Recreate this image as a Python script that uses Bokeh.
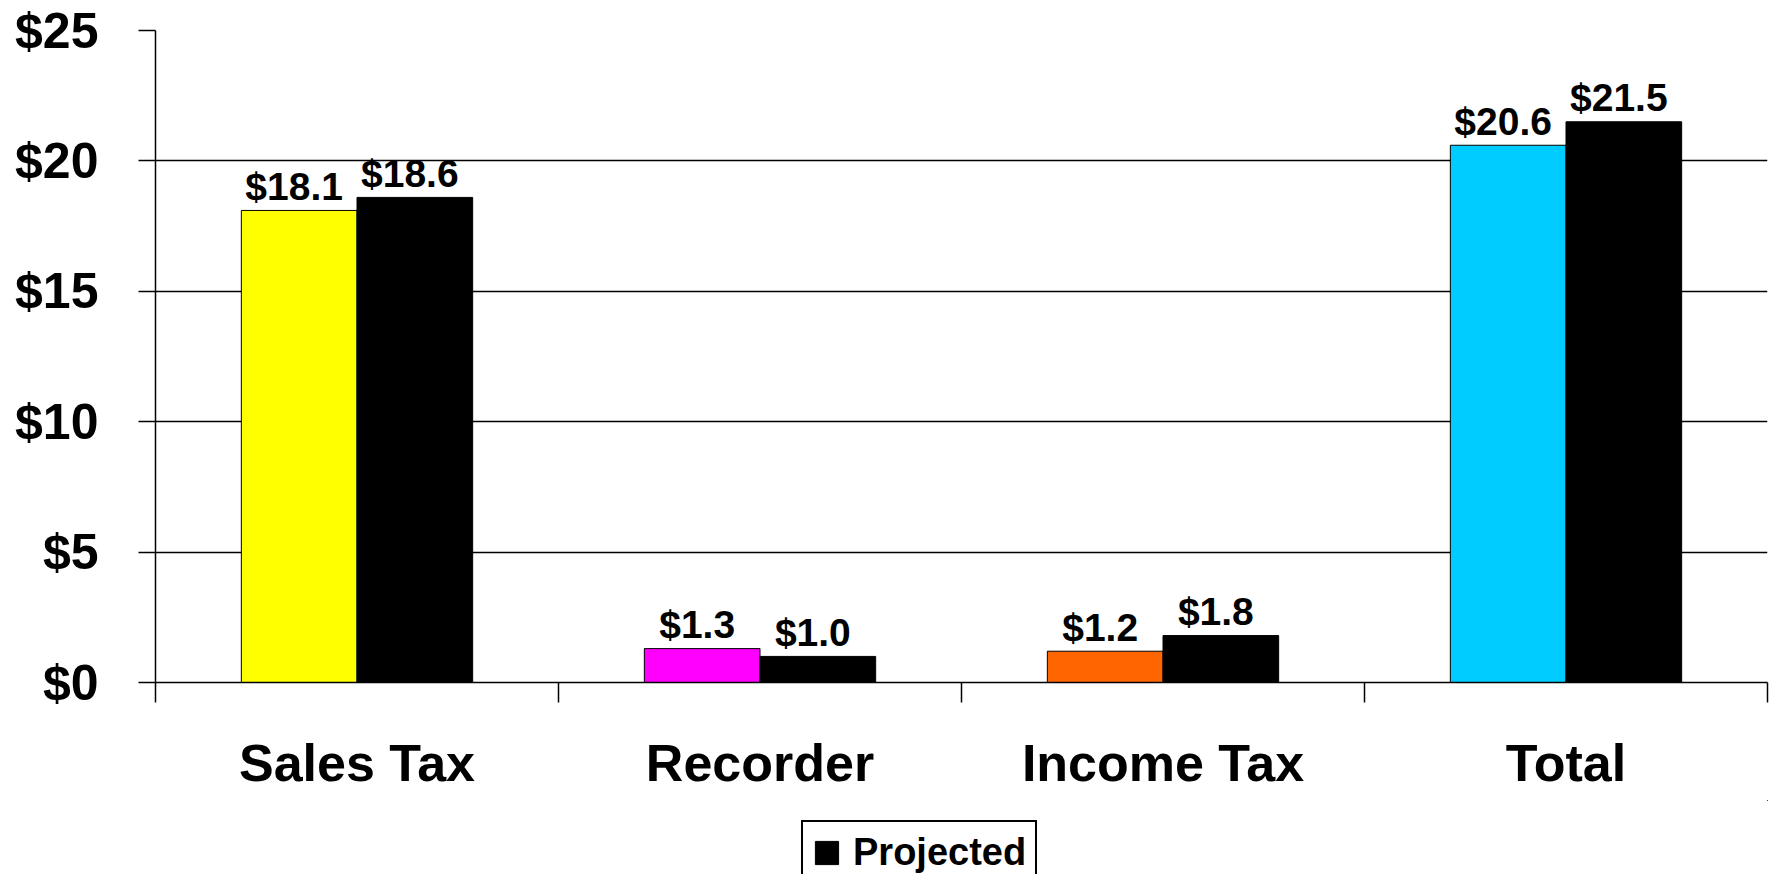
import numpy as np
from bokeh.plotting import figure
from bokeh.layouts import column
from bokeh.models import FixedTicker, Legend, LegendItem, ColumnDataSource, Range1d
from bokeh.core.properties import value
from bokeh.embed import file_html
from bokeh.resources import INLINE

categories = ["Sales Tax", "Recorder", "Income Tax", "Total"]
actual = [18.1, 1.3, 1.2, 20.6]
projected = [18.6, 1.0, 1.8, 21.5]
actual_colors = ["#FFFF00", "#FF00FF", "#FF6600", "#00CCFF"]
projected_color = "#000000"
y_ticks = [0, 5, 10, 15, 20, 25]
y_tick_labels = ["$0", "$5", "$10", "$15", "$20", "$25"]
series_names = ["Actual", "Projected"]

FONT = "Liberation Sans"
BAR_W = 0.287
W, H1, H2 = 1769, 800, 74

idx = np.arange(len(categories))
centers = idx + 0.5
x_act = centers - BAR_W / 2
x_proj = centers + BAR_W / 2

src_act = ColumnDataSource(dict(x=x_act, top=actual, color=actual_colors,
                                label=["$%.1f" % v for v in actual]))
src_proj = ColumnDataSource(dict(x=x_proj, top=projected,
                                 label=["$%.1f" % v for v in projected]))

p = figure(width=W, height=H1, x_range=Range1d(0, len(categories)),
           y_range=Range1d(y_ticks[0], y_ticks[-1]),
           output_backend="svg", toolbar_location=None,
           min_border_left=155, min_border_right=2,
           min_border_top=30, min_border_bottom=H1 - 682)
p.outline_line_color = None
p.background_fill_color = "white"
p.border_fill_color = "white"

r_act = p.vbar(x="x", top="top", width=BAR_W, source=src_act, fill_color="color",
               line_color="#000000", line_width=1)
r_proj = p.vbar(x="x", top="top", width=BAR_W, source=src_proj, fill_color=projected_color,
                line_color="#000000", line_width=1)

for src in (src_act, src_proj):
    p.text(x="x", y="top", text="label", source=src, text_font=value(FONT),
           text_font_style="bold", text_font_size="39px", text_color="black",
           text_align="center", text_baseline="alphabetic", x_offset=-5, y_offset=-24)

# x axis
p.xaxis.ticker = FixedTicker(ticks=list(centers), minor_ticks=list(range(len(categories) + 1)))
p.xaxis.major_label_overrides = {float(c): name for c, name in zip(centers, categories)}
p.xaxis.major_tick_out = 0
p.xaxis.major_tick_in = 0
p.xaxis.minor_tick_out = 20
p.xaxis.minor_tick_in = 0
p.xaxis.minor_tick_line_color = "black"
p.xaxis.minor_tick_line_width = 1.5
p.xaxis.axis_line_color = "black"
p.xaxis.axis_line_width = 1.5
p.xaxis.major_label_text_font = FONT
p.xaxis.major_label_text_font_style = "bold"
p.xaxis.major_label_text_font_size = "52px"
p.xaxis.major_label_text_color = "black"
p.xaxis.major_label_standoff = 31

# y axis
p.yaxis.ticker = FixedTicker(ticks=y_ticks)
p.yaxis.major_label_overrides = {t: l for t, l in zip(y_ticks, y_tick_labels)}
p.yaxis.major_tick_out = 17
p.yaxis.major_tick_in = 0
p.yaxis.major_tick_line_color = "black"
p.yaxis.major_tick_line_width = 1.5
p.yaxis.minor_tick_line_color = None
p.yaxis.axis_line_color = "black"
p.yaxis.axis_line_width = 1.5
p.yaxis.major_label_text_font = FONT
p.yaxis.major_label_text_font_style = "bold"
p.yaxis.major_label_text_font_size = "50px"
p.yaxis.major_label_text_color = "black"
p.yaxis.major_label_standoff = 40

p.xgrid.grid_line_color = None
p.ygrid.ticker = FixedTicker(ticks=y_ticks)
p.ygrid.grid_line_color = "black"
p.ygrid.grid_line_width = 1.5

# legend strip below the chart (its bars lie outside the visible ranges)
p2 = figure(width=W, height=H2, x_range=Range1d(-20, -19), y_range=Range1d(-20, -19),
            output_backend="svg", toolbar_location=None,
            x_axis_type=None, y_axis_type=None,
            min_border_left=0, min_border_right=0, min_border_top=0, min_border_bottom=0)
p2.outline_line_color = None
p2.xgrid.grid_line_color = None
p2.ygrid.grid_line_color = None
p2.border_fill_color = "white"
r_leg = p2.vbar(x="x", top="top", width=BAR_W, source=src_proj, fill_color=projected_color,
                line_color="#000000", line_width=1)

legend = Legend(items=[LegendItem(label=series_names[1], renderers=[r_leg])],
                location=(646, -11), orientation="horizontal")
legend.label_text_font = FONT
legend.label_text_font_style = "bold"
legend.label_text_font_size = "38px"
legend.label_text_color = "black"
legend.glyph_width = 29
legend.glyph_height = 29
legend.label_standoff = 12
legend.padding = 9
legend.margin = 0
legend.border_line_color = "black"
legend.border_line_alpha = 1
legend.border_line_width = 2
legend.background_fill_color = "white"
legend.background_fill_alpha = 1
p2.add_layout(legend, "center")

layout = column(p, p2, spacing=0)
open("out.html", "w").write(file_html(layout, INLINE))
